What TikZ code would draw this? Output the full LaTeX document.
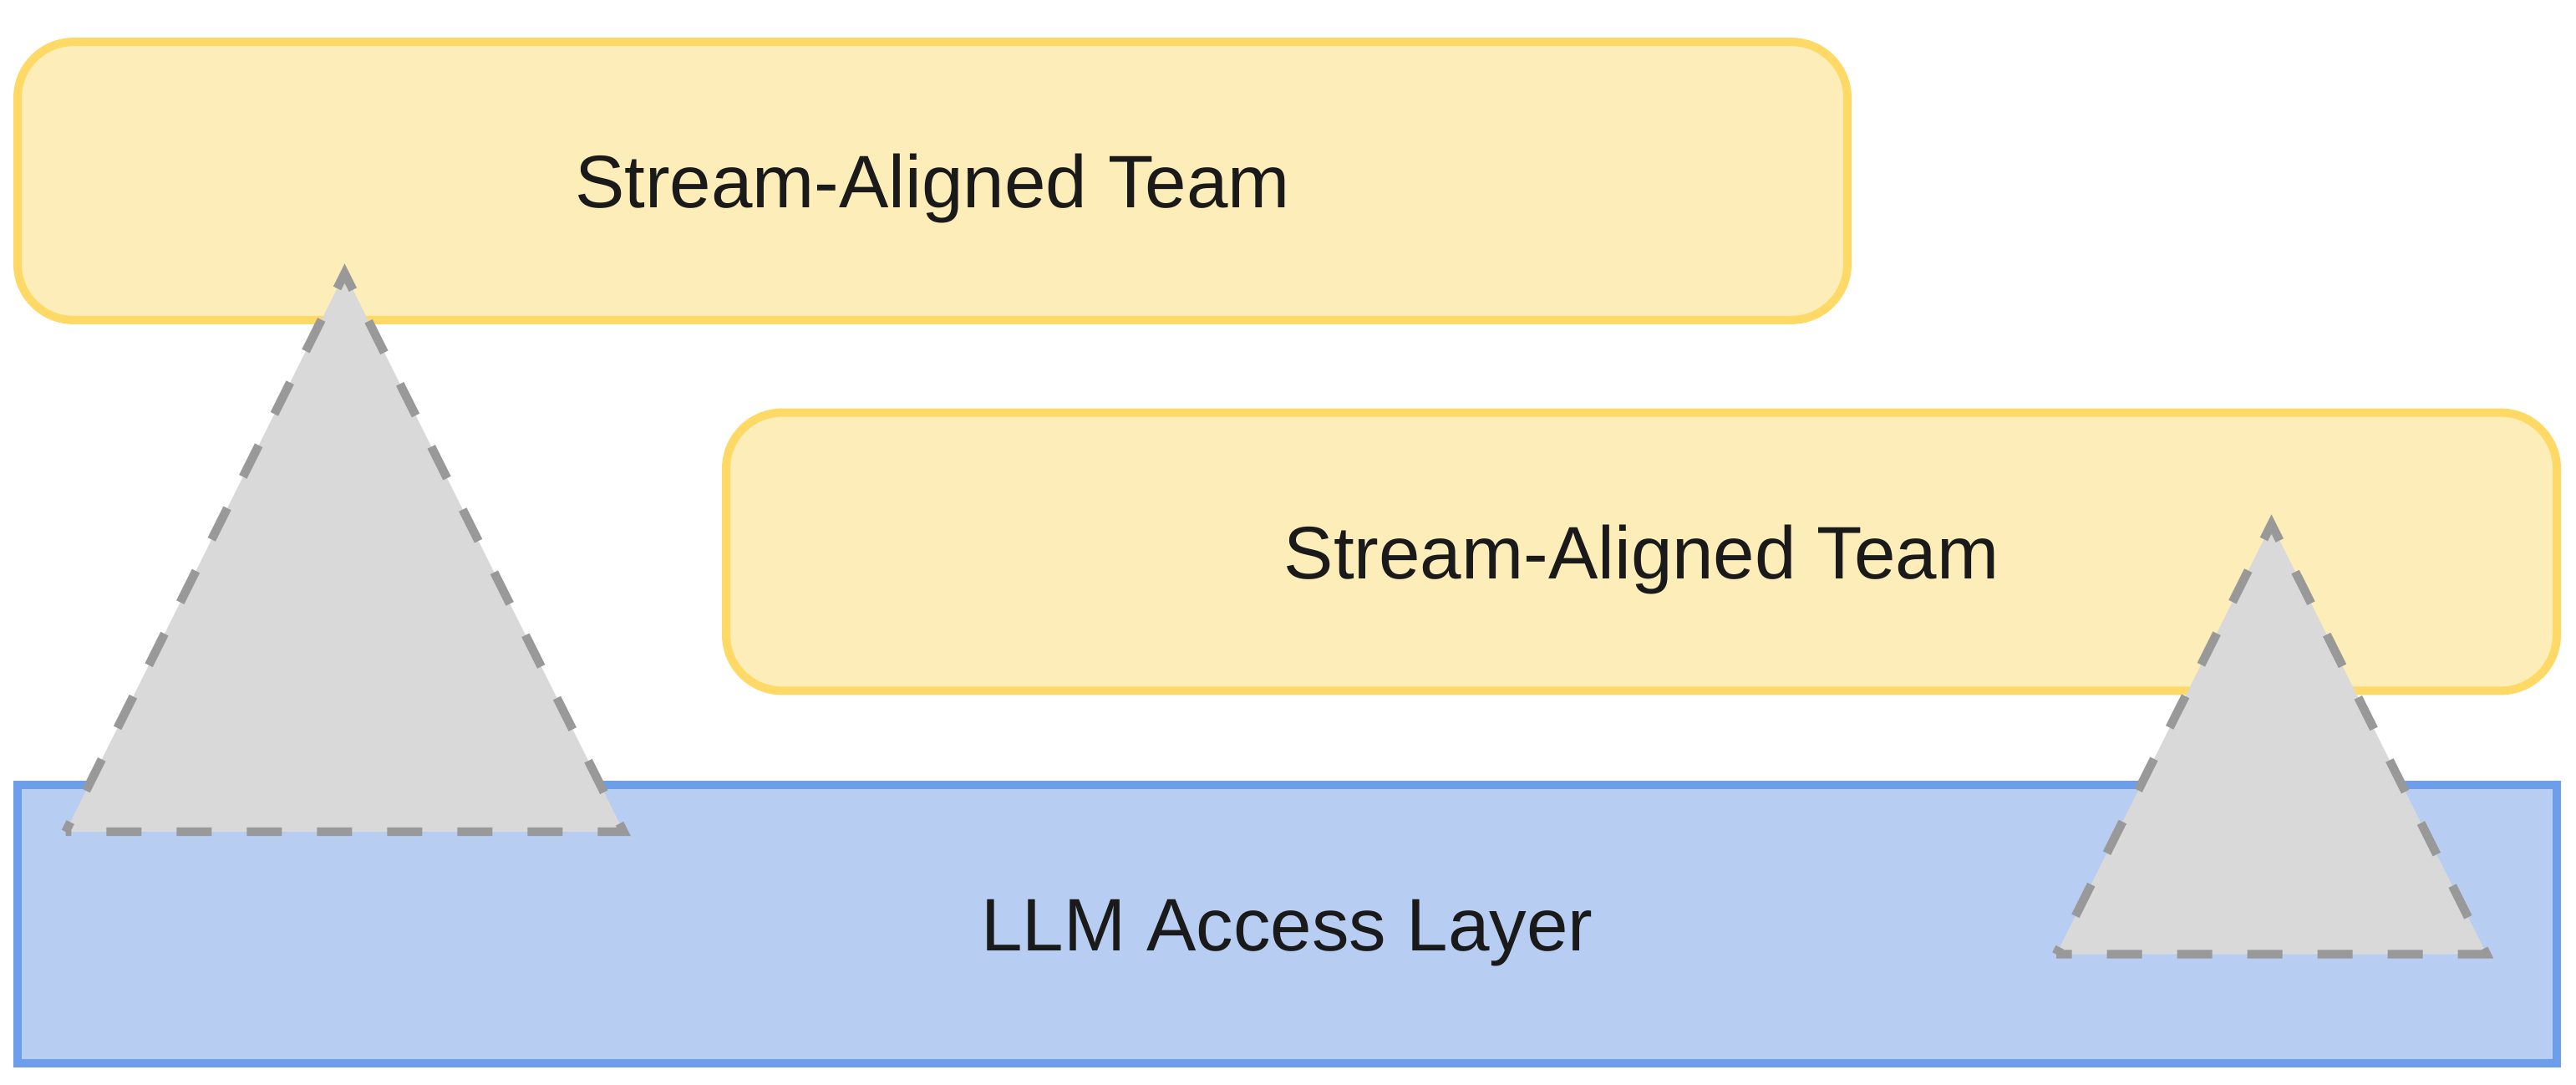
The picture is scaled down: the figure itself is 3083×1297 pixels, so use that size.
\documentclass[tikz,border=0pt]{standalone}
\usepackage{fontspec}
\setmainfont{Liberation Sans}
\definecolor{teamfill}{HTML}{FDEDB8}
\definecolor{teamdraw}{HTML}{FFD966}
\definecolor{layerfill}{HTML}{B8CDF2}
\definecolor{layerdraw}{HTML}{6D9EEB}
\definecolor{trifill}{HTML}{D9D9D9}
\definecolor{tridraw}{HTML}{999999}
\definecolor{txt}{HTML}{1A1A1A}
\tikzset{
  teambox/.style={draw=teamdraw, fill=teamfill, line width=2.5pt, rounded corners=16.75pt,
    rectangle, inner sep=0pt, minimum width=547.5pt, minimum height=83.2pt},
  layerbox/.style={draw=layerdraw, fill=layerfill, line width=2.6pt,
    rectangle, inner sep=0pt, minimum width=759.75pt, minimum height=83.25pt},
  tri/.style={draw=tridraw, fill=trifill, line width=2.6pt, dash pattern=on 10.5pt off 10.5pt, line join=miter},
  lbl/.style={anchor=base, inner sep=0pt, text=txt, font=\fontsize{22.25pt}{26pt}\selectfont}
}
\begin{document}
\begin{tikzpicture}[x=0.25pt, y=-0.25pt]
\useasboundingbox[fill=white] (0,0) rectangle (3083,1297);
\node[teambox] (b1) at (1116,216.5) {};
\node[teambox, minimum width=547.75pt] (b2) at (1964.5,660) {};
\node[layerbox] (ll) at (1540.5,1105.5) {};
\node[lbl] (t1) at ([yshift=-8.1pt]b1.center) {Stream-Aligned Team};
\node[lbl] (t2) at ([yshift=-8.1pt]b2.center) {Stream-Aligned Team};
\node[lbl] (t3) at ([yshift=-8.1pt]ll.center) {LLM Access Layer};
\coordinate (a1) at (412.5,327);
\coordinate (r1) at (746.5,995);
\coordinate (l1) at (78.5,995);
\draw[tri, dash phase=7.3pt] (l1) -- (a1) -- (r1) -- cycle;
\coordinate (a2) at (2718.5,627);
\coordinate (r2) at (2976,1141.5);
\coordinate (l2) at (2461,1141.5);
\draw[tri, dash phase=8.2pt] (l2) -- (a2) -- (r2) -- cycle;
\end{tikzpicture}
\end{document}
